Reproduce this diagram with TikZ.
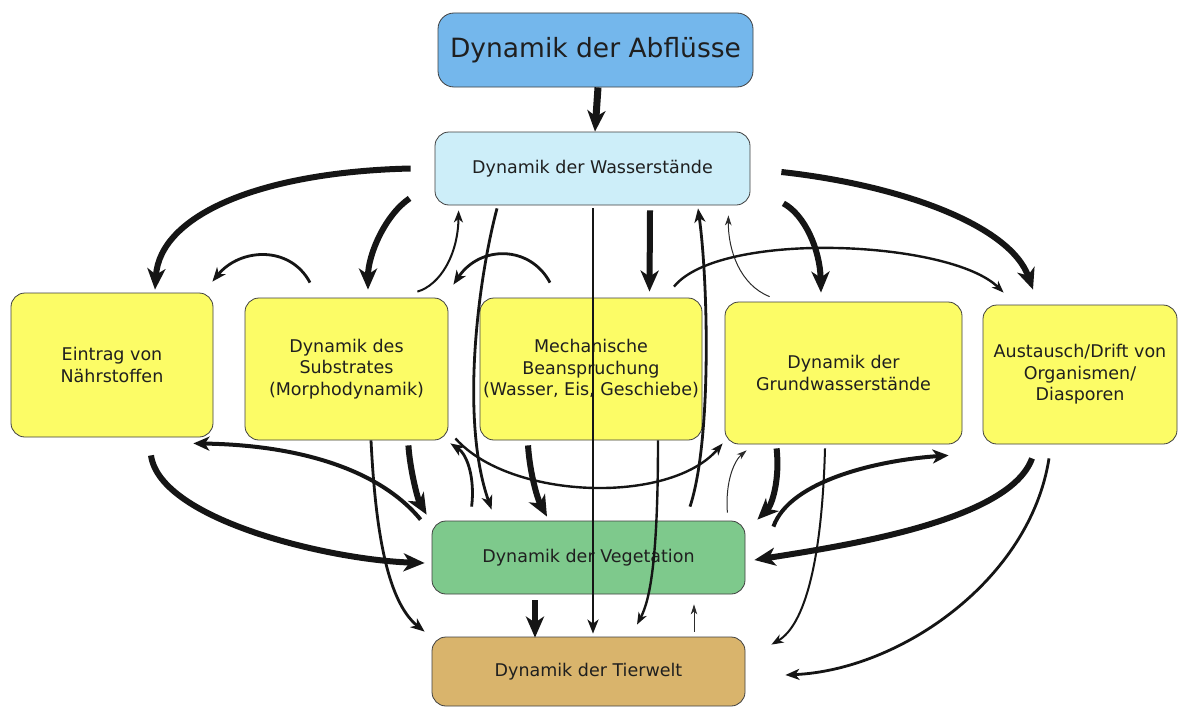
\documentclass[tikz,border=0pt]{standalone}
\usepackage{fontspec}
\setmainfont{DejaVu Sans}
\usetikzlibrary{arrows.meta}
\definecolor{cAbfl}{HTML}{74B7EC}
\definecolor{cWasser}{HTML}{CDEEF9}
\definecolor{cGelb}{HTML}{FCFC66}
\definecolor{cVeg}{HTML}{7EC98C}
\definecolor{cTier}{HTML}{D9B46C}
\definecolor{cLine}{HTML}{151515}
\tikzset{
  box/.style={draw=black!75, line width=0.8pt, rounded corners=14pt, align=center,
    inner sep=2pt, text=black!88, font=\fontsize{17.5}{21.5}\selectfont},
  arrThick/.style={draw=cLine, line width=6pt, -{Stealth[length=21pt,width=18pt,inset=6pt]}},
  arrMedThick/.style={draw=cLine, line width=4pt, -{Stealth[length=16pt,width=14pt,inset=4.5pt]}},
  arrMed/.style={draw=cLine, line width=2.8pt, -{Stealth[length=14pt,width=11pt,inset=4pt]}},
  arrThin/.style={draw=cLine, line width=2pt, -{Stealth[length=12pt,width=9pt,inset=3.5pt]}},
  arrHair/.style={draw=cLine!90, line width=1pt, -{Stealth[length=10pt,width=6.5pt,inset=3pt]}},
}
\begin{document}
\begin{tikzpicture}[x=1pt,y=-1pt]
\useasboundingbox (0,0) rectangle (1180,709);
\fill[white] (0,0) rectangle (1180,709);

% nodes
\node[box, fill=cAbfl, rounded corners=16pt, minimum width=315pt, minimum height=74pt,
  font=\fontsize{26.5}{30}\selectfont] (abfl) at (595.5,50) {Dynamik der Abflüsse};
\node[box, fill=cWasser, minimum width=315pt, minimum height=73pt] (wasser) at (592.5,168.5) {Dynamik der Wasserstände};
\node[box, fill=cGelb, minimum width=202pt, minimum height=144pt] (eintrag) at (112,365) {Eintrag von\\Nährstoffen};
\node[box, fill=cGelb, minimum width=203pt, minimum height=142pt] (substrat) at (346.5,369) {Dynamik des\\Substrates\\(Morphodynamik)};
\node[box, fill=cGelb, minimum width=222pt, minimum height=142pt] (mech) at (591,369) {Mechanische\\Beanspruchung\\(Wasser, Eis, Geschiebe)};
\node[box, fill=cGelb, minimum width=237pt, minimum height=142pt] (grund) at (843.5,373) {Dynamik der\\Grundwasserstände};
\node[box, fill=cGelb, minimum width=194pt, minimum height=139pt] (aust) at (1080,374.5) {Austausch/Drift von\\Organismen/\\Diasporen};
\node[box, fill=cVeg, minimum width=313pt, minimum height=73pt] (veg) at (588.5,557.5) {Dynamik der Vegetation};
\node[box, fill=cTier, minimum width=313pt, minimum height=69pt] (tier) at (588.5,671.5) {Dynamik der Tierwelt};

% top
\draw[arrThick, line width=7pt] ([xshift=2.5pt]abfl.south) -- ([xshift=2.5pt]wasser.north);

% from/to Wasserstaende
\draw[arrThick] ([xshift=-24pt]wasser.west) .. controls (260,172) and (160,215) .. ([xshift=43pt,yshift=3pt]eintrag.north);
\draw[arrThick] ([xshift=-25pt,yshift=7pt]wasser.south west) .. controls (385,215) and (368,255) .. ([xshift=21.5pt,yshift=8pt]substrat.north);
\draw[arrThin] ([xshift=-31pt,yshift=6pt]substrat.north east) .. controls (440,285) and (458,255) .. ([xshift=24pt,yshift=-5pt]wasser.south west);
\draw[arrMed] ([xshift=-95.5pt,yshift=-3pt]wasser.south) .. controls (478,280) and (460,420) .. ([xshift=60pt,yshift=11pt]veg.north west);
\draw[arrMed] ([xshift=0.5pt,yshift=-3pt]wasser.south) -- ([xshift=4.5pt,yshift=3pt]tier.north);
\draw[arrThick] ([xshift=57.5pt,yshift=-5pt]wasser.south) -- ([xshift=58.5pt,yshift=6pt]mech.north);
\draw[arrMed] ([xshift=101.5pt,yshift=14pt]veg.north) .. controls (712,440) and (708,280) .. ([xshift=105.5pt,yshift=-3pt]wasser.south);
\draw[arrHair] ([xshift=45pt,yshift=5pt]grund.north west) .. controls (740,285) and (728,250) .. ([xshift=-22pt,yshift=-10pt]wasser.south east);
\draw[arrThick] ([xshift=33pt,yshift=2pt]wasser.south east) .. controls (805,215) and (820,250) .. ([xshift=-22.5pt,yshift=9pt]grund.north);
\draw[arrThick] ([xshift=31pt,yshift=-3.5pt]wasser.east) .. controls (900,185) and (1010,225) .. ([xshift=-47pt,yshift=15pt]aust.north);

% arcs between yellow boxes (top)
\draw[arrThin, line width=2.4pt] ([xshift=83pt,yshift=11pt]mech.north) .. controls (720,230) and (950,240) .. ([xshift=21pt,yshift=12pt]aust.north west);
\draw[arrMed] ([xshift=-41pt,yshift=15pt]mech.north) .. controls (530,245) and (480,245) .. ([xshift=5pt,yshift=13pt]substrat.north east);
\draw[arrMed] ([xshift=-36.5pt,yshift=15pt]substrat.north) .. controls (290,245) and (240,248) .. ([xshift=-1pt,yshift=11pt]eintrag.north east);

% lower part
\draw[arrThick] ([xshift=39pt,yshift=-18pt]eintrag.south) .. controls (160,520) and (330,560) .. ([xshift=-7pt,yshift=-5.5pt]veg.west);
\draw[arrMedThick] ([xshift=-11pt,yshift=1pt]veg.north west) .. controls (380,470) and (300,445) .. ([xshift=-20pt,yshift=-6pt]eintrag.south east);
\draw[arrMed] ([xshift=24.5pt]substrat.south) .. controls (375,520) and (385,600) .. ([xshift=-7pt,yshift=5pt]tier.north west);
\draw[arrThick] ([xshift=-40pt,yshift=-5pt]substrat.south east) .. controls (410,470) and (418,500) .. ([xshift=-5pt,yshift=6pt]veg.north west);
\draw[arrMed] ([xshift=40pt,yshift=14pt]veg.north west) .. controls (475,480) and (468,455) .. ([xshift=2pt,yshift=-3pt]substrat.south east);
\draw[arrThin, line width=2.4pt] ([xshift=7pt,yshift=2pt]substrat.south east) .. controls (510,500) and (670,505) .. ([xshift=-2pt,yshift=1pt]grund.south west);
\draw[arrThick] ([xshift=-63pt,yshift=-5pt]mech.south) .. controls (530,475) and (538,500) .. ([xshift=-41.5pt,yshift=4pt]veg.north);
\draw[arrThin, line width=2.4pt] ([xshift=67pt]mech.south) .. controls (658,560) and (650,600) .. ([xshift=48.5pt,yshift=12pt]tier.north);
\draw[arrHair] ([xshift=-18pt,yshift=8pt]veg.north east) .. controls (725,480) and (735,460) .. ([xshift=22pt,yshift=-6pt]grund.south west);
\draw[arrThick] ([xshift=52pt,yshift=-4pt]grund.south west) .. controls (780,480) and (772,505) .. ([xshift=12pt,yshift=1pt]veg.north east);
\draw[arrThin] ([xshift=-18.5pt,yshift=-4pt]grund.south) .. controls (822,560) and (805,625) .. ([xshift=26pt,yshift=-8pt]tier.north east);
\draw[arrMedThick] ([xshift=28pt,yshift=-6pt]veg.north east) .. controls (790,480) and (880,460) .. ([xshift=-34pt,yshift=-11pt]aust.south west);
\draw[arrThick] ([xshift=-48pt,yshift=-14pt]aust.south) .. controls (1010,520) and (850,545) .. ([xshift=9pt,yshift=-2.5pt]veg.east);
\draw[arrMed] ([xshift=-31pt,yshift=-14pt]aust.south) .. controls (1030,580) and (900,670) .. ([xshift=40pt,yshift=-3.5pt]tier.east);

% between vegetation and tierwelt
\draw[arrThick] ([xshift=-53.5pt,yshift=-6pt]veg.south) -- ([xshift=-53.5pt,yshift=-1pt]tier.north);
\draw[arrHair] ([xshift=105.5pt,yshift=5pt]tier.north) -- ([xshift=105.5pt,yshift=-10pt]veg.south);
\end{tikzpicture}
\end{document}
